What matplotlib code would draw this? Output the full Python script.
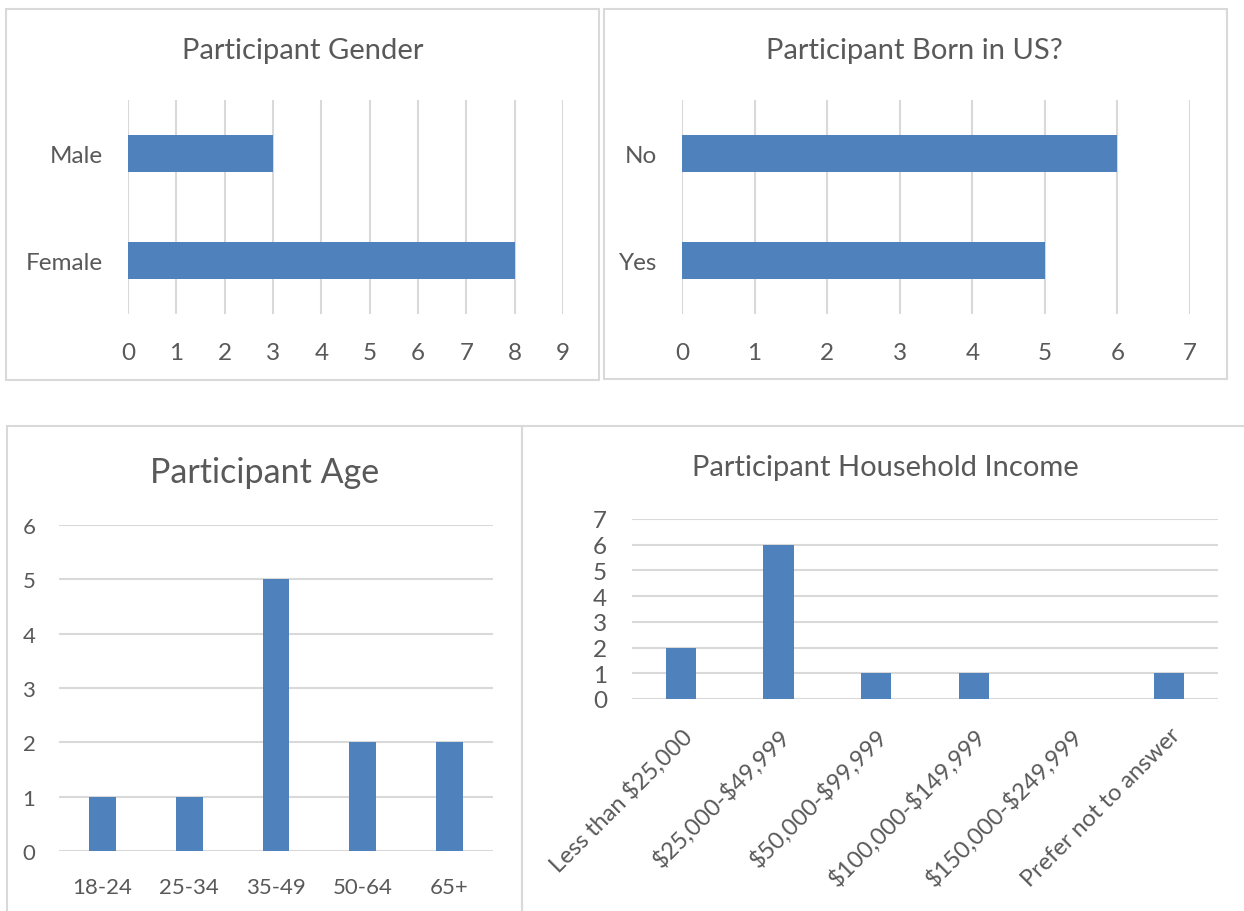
import matplotlib
matplotlib.use("Agg")
import matplotlib.pyplot as plt
from matplotlib.patches import Rectangle

plt.rcParams["font.family"] = ["Lato", "DejaVu Sans"]

# data
gender_cats = ["Female", "Male"]
gender_vals = [8, 3]

born_cats = ["Yes", "No"]
born_vals = [5, 6]

age_cats = ["18-24", "25-34", "35-49", "50-64", "65+"]
age_vals = [1, 1, 5, 2, 2]

income_cats = ["Less than \\$25,000", "\\$25,000-\\$49,999", "\\$50,000-\\$99,999",
               "\\$100,000-\\$149,999", "\\$150,000-\\$249,999", "Prefer not to answer"]
income_vals = [2, 6, 1, 1, 0, 1]

BLUE = "#4F81BD"
GRID = "#D9D9D9"
TXT = "#595959"
W, H = 1244, 912

fig = plt.figure(figsize=(W / 100, H / 100), dpi=100)


def px_axes(x0, y0, x1, y1):
    # pixel box (top-left origin) -> figure axes
    return fig.add_axes([x0 / W, 1 - y1 / H, (x1 - x0) / W, (y1 - y0) / H])


def panel(x0, y0, x1, y1):
    fig.patches.append(Rectangle((x0 / W, 1 - y1 / H), (x1 - x0) / W, (y1 - y0) / H,
                                 transform=fig.transFigure, fill=False,
                                 edgecolor="#D9D9D9", linewidth=1.5))


def clean(ax):
    for s in ax.spines.values():
        s.set_visible(False)
    ax.tick_params(length=0, colors=TXT)
    ax.set_axisbelow(True)


panel(6, 10, 599, 381)
panel(604, 10, 1227, 380)
panel(7, 427, 522, 915)
panel(522, 427, 1247, 915)

# Participant Gender
ax = px_axes(128, 101, 563, 315)
ax.barh(range(len(gender_cats)), gender_vals, height=0.35, color=BLUE)
ax.set_xlim(0, 9)
ax.set_ylim(-0.5, 1.5)
ax.set_xticks(range(10))
ax.set_yticks(range(len(gender_cats)))
ax.set_yticklabels(gender_cats)
ax.grid(axis="x", color=GRID, linewidth=1.5)
clean(ax)
ax.tick_params(axis="x", labelsize=17.5, pad=20)
ax.tick_params(axis="y", labelsize=17.5, pad=18)
fig.text(303 / W, 1 - 51 / H, "Participant Gender", ha="center", va="center",
         fontsize=21, color=TXT)

# Participant Born in US?
ax = px_axes(682, 101, 1190, 315)
ax.barh(range(len(born_cats)), born_vals, height=0.35, color=BLUE)
ax.set_xlim(0, 7)
ax.set_ylim(-0.5, 1.5)
ax.set_xticks(range(8))
ax.set_yticks(range(len(born_cats)))
ax.set_yticklabels(born_cats)
ax.grid(axis="x", color=GRID, linewidth=1.5)
clean(ax)
ax.tick_params(axis="x", labelsize=17.5, pad=20)
ax.tick_params(axis="y", labelsize=17.5, pad=18)
fig.text(914 / W, 1 - 51 / H, "Participant Born in US?", ha="center", va="center",
         fontsize=21, color=TXT)

# Participant Age
ax = px_axes(59, 526, 493, 852)
ax.bar(range(len(age_cats)), age_vals, width=0.31, color=BLUE)
ax.set_xlim(-0.5, len(age_cats) - 0.5)
ax.set_ylim(0, 6)
ax.set_yticks(range(7))
ax.set_xticks(range(len(age_cats)))
ax.set_xticklabels(age_cats)
ax.grid(axis="y", color=GRID, linewidth=1.5)
clean(ax)
ax.tick_params(axis="x", labelsize=16, pad=19)
ax.tick_params(axis="y", labelsize=16, pad=17)
fig.text(265 / W, 1 - 473 / H, "Participant Age", ha="center", va="center",
         fontsize=24.5, color=TXT)

# Participant Household Income
ax = px_axes(632, 520, 1218, 700)
ax.bar(range(len(income_cats)), income_vals, width=0.31, color=BLUE)
ax.set_xlim(-0.5, len(income_cats) - 0.5)
ax.set_ylim(0, 7)
ax.set_yticks(range(8))
ax.set_xticks(range(len(income_cats)))
ax.set_xticklabels(income_cats, rotation=45, ha="right", rotation_mode="anchor")
ax.grid(axis="y", color=GRID, linewidth=1.5)
clean(ax)
ax.tick_params(axis="x", labelsize=17, pad=18)
ax.tick_params(axis="y", labelsize=17.5, pad=18)
fig.text(885 / W, 1 - 468 / H, "Participant Household Income", ha="center",
         va="center", fontsize=21, color=TXT)

fig.savefig("out.png", dpi=100, facecolor="white")
